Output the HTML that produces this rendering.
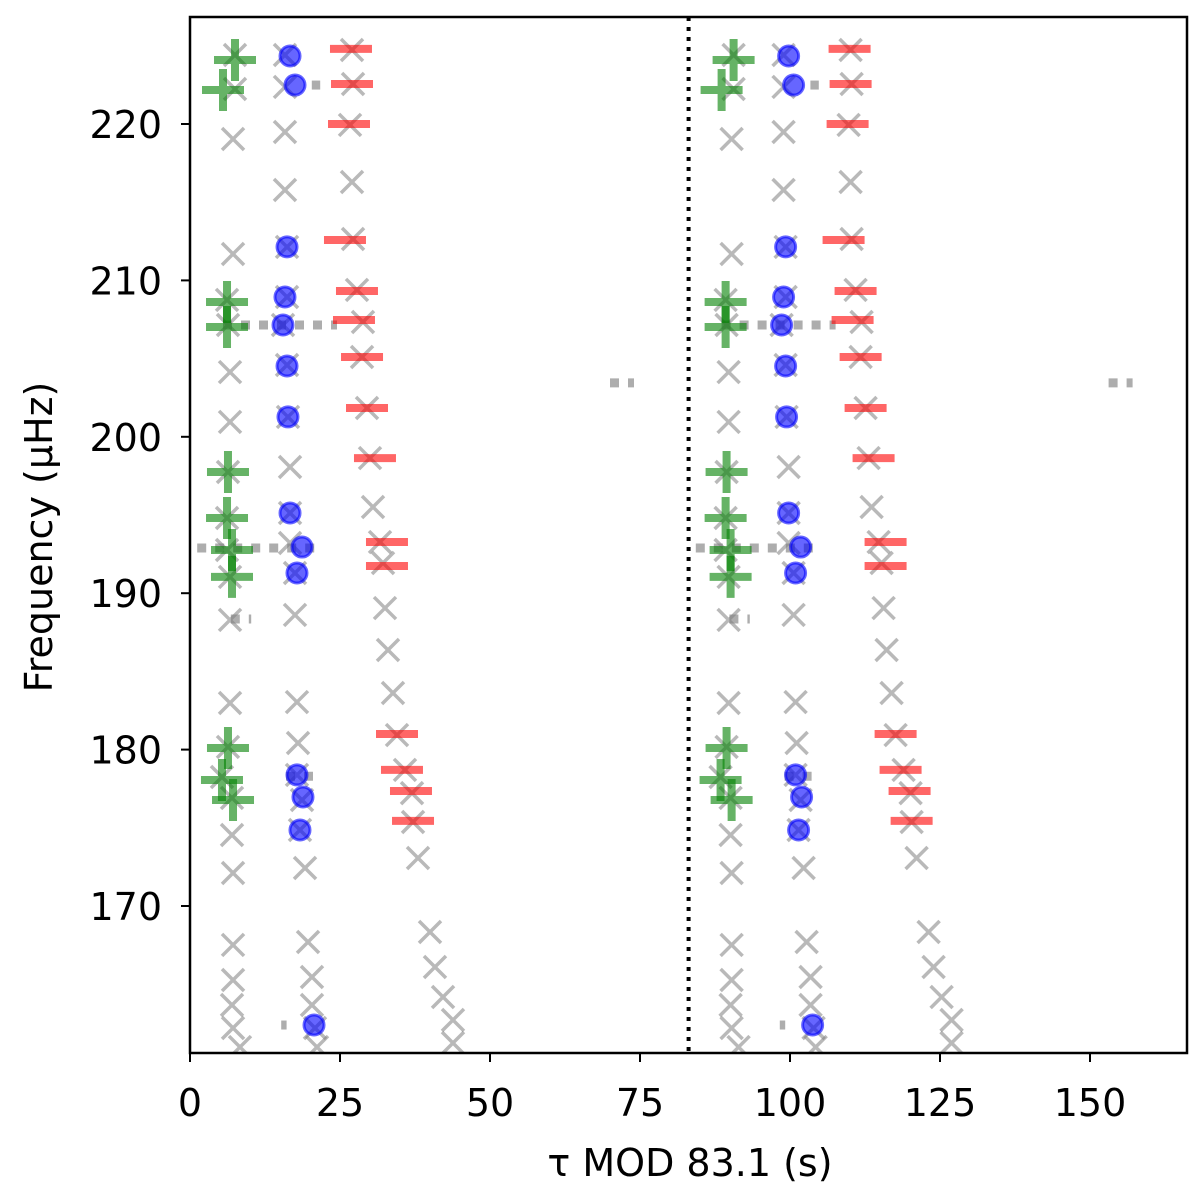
<!DOCTYPE html>
<html><head><meta charset="utf-8"><style>
html,body{margin:0;padding:0;background:#fff;}
svg text{font-family:"DejaVu Sans","Liberation Sans",sans-serif;}
</style></head><body>
<svg id="chart" width="1200" height="1198" xmlns="http://www.w3.org/2000/svg">
<defs><clipPath id="pc"><rect x="190" y="17" width="997" height="1036"/></clipPath></defs>
<g id="marks" clip-path="url(#pc)"></g>
<g id="axes"></g>
</svg>
<script>
const PERIOD = 83.1;
const xTicks = [0,25,50,75,100,125,150];
const yTicks = [170,180,190,200,210,220];
// gray x markers (model modes): [x, freq]
const grayX = [[7.5,224.41],[7.5,222.24],[7.17,219.04],[7.17,211.69],[6.17,208.75],[6.33,207.15],[6.67,204.14],[6.67,200.95],[6.33,197.75],[6.17,194.81],[6.17,192.76],[6.67,191.04],[6.67,188.29],[6.67,182.98],[6.33,180.17],[5.33,178.25],[7.0,176.91],[7.0,174.54],[7.17,172.11],[7.17,167.51],[7.17,165.27],[7.0,163.67],[7.17,162.2],[8.33,160.98],
[15.83,224.41],[15.83,222.37],[15.83,219.49],[15.83,215.78],[16.17,212.14],[16.17,208.94],[15.5,207.15],[16.17,204.59],[16.33,201.27],[16.67,198.07],[16.67,195.13],[16.67,193.21],[17.5,191.29],[17.5,188.61],[17.83,183.04],[18,180.42],[17.83,178.38],[18.67,176.78],[18.33,174.86],[19.17,172.43],[19.67,167.7],[20.33,165.46],[20.33,163.67],[20.83,162.2],[21.17,160.98],
[27,224.73],[27.17,222.56],[26.67,219.94],[27,216.29],[27.17,212.65],[27.83,209.39],[28.83,207.34],[28.67,205.1],[29.5,201.84],[30,198.64],[30.5,195.51],[31.67,193.27],[32.17,191.93],[32.5,189.05],[33,186.37],[33.83,183.62],[34.5,180.93],[35.83,178.7],[37,177.22],[37.17,175.37],[38,173.07],[40,168.34],[40.83,166.1],[42.17,164.18],[43.83,162.71],[43.83,161.24]];
const greenPlus = [[7.5,224.09],[5.5,222.17],[6.17,208.62],[6.17,207.02],[6.33,197.75],[6.17,194.81],[7.0,192.76],[7.0,191.04],[6.33,180.1],[5.33,178.06],[7.17,176.78]];
const blueDots = [[16.67,224.35],[17.5,222.49],[16.17,212.14],[15.83,208.94],[15.5,207.15],[16.17,204.53],[16.33,201.27],[16.67,195.13],[18.67,192.95],[17.83,191.29],[17.83,178.38],[18.83,176.97],[18.33,174.86],[20.67,162.39]];
const redDash = [[26.83,224.8],[27,222.56],[26.5,220.0],[25.83,212.58],[27.83,209.32],[27.33,207.47],[28.67,205.1],[29.5,201.84],[30.83,198.64],[32.83,193.27],[32.83,191.74],[34.5,181.0],[35.33,178.7],[36.83,177.35],[37.17,175.44]];
// dotted gray segments: [xStart, xEnd, freq]
const dotted = [[20.3,21.7,222.49],[5.5,24.5,207.15],[1.2,22,192.89],[6.8,10.2,188.35],[16,21.2,178.3],[15.2,16.1,162.39],[70,74,203.45]];

const X0=190, PXU=6.0, Y0=124, PYU=15.64;
const sx = v => X0 + v*PXU;
const sy = f => Y0 - (f-220)*PYU;
const NS='http://www.w3.org/2000/svg';
const marks=document.getElementById('marks');
const axes=document.getElementById('axes');
function mk(tag, attrs, parent){const e=document.createElementNS(NS,tag);for(const k in attrs)e.setAttribute(k,attrs[k]);parent.appendChild(e);return e;}

[0,PERIOD].forEach(off=>{
  dotted.forEach(d=>{
    const e=mk('line',{x1:sx(d[0]+off),x2:sx(d[1]+off),y1:sy(d[2]),y2:sy(d[2]),stroke:'#999','stroke-opacity':0.8,'stroke-width':9,'stroke-dasharray':'9 9','stroke-linejoin':'round'},marks);
    
    
  });
  grayX.forEach(p=>{
    const cx=sx(p[0]+off), cy=sy(p[1]), s=11;
    const e=mk('path',{d:`M${cx-s},${cy-s}L${cx+s},${cy+s}M${cx-s},${cy+s}L${cx+s},${cy-s}`,stroke:'#808080','stroke-opacity':0.55,'stroke-width':3.5,fill:'none'},marks);
    
    
  });
  greenPlus.forEach(p=>{
    const cx=sx(p[0]+off), cy=sy(p[1]), s=21;
    const e=mk('path',{d:`M${cx-s},${cy}L${cx+s},${cy}M${cx},${cy-s}L${cx},${cy+s}`,stroke:'#008000','stroke-opacity':0.6,'stroke-width':8,fill:'none'},marks);
    
    
  });
  blueDots.forEach(p=>{
    const e=mk('circle',{cx:sx(p[0]+off),cy:sy(p[1]),r:10,fill:'#0000ff','fill-opacity':0.6,stroke:'#0000ff','stroke-opacity':0.6,'stroke-width':3},marks);
    
    
  });
  redDash.forEach(p=>{
    const cx=sx(p[0]+off), cy=sy(p[1]);
    const e=mk('line',{x1:cx-21,x2:cx+21,y1:cy,y2:cy,stroke:'#ff0000','stroke-opacity':0.6,'stroke-width':8},marks);
    
    
  });
});

const vl=mk('line',{x1:sx(PERIOD),x2:sx(PERIOD),y1:17,y2:1053,stroke:'#000','stroke-width':4,'stroke-dasharray':'4 6'},axes);



const fr=mk('rect',{x:190,y:17,width:997,height:1036,fill:'none',stroke:'#000','stroke-width':2.5},axes);



xTicks.forEach(t=>{
  const x=sx(t);
  const tk=mk('line',{x1:x,x2:x,y1:1053,y2:1062,stroke:'#000','stroke-width':2},axes);
  
  
  const tx=mk('text',{x:x,y:1116,'font-size':38,'text-anchor':'middle',fill:'#000'},axes);
  tx.textContent=t;
  
  
});
yTicks.forEach(t=>{
  const y=sy(t);
  const tk=mk('line',{x1:181,x2:190,y1:y,y2:y,stroke:'#000','stroke-width':2},axes);
  
  
  const tx=mk('text',{x:162,y:y+14,'font-size':38,'text-anchor':'end',fill:'#000'},axes);
  tx.textContent=t;
  
  
});
const xt=mk('text',{x:690,y:1176,'font-size':38,'text-anchor':'middle',fill:'#000'},axes);
xt.textContent='τ MOD 83.1 (s)';


const yt=mk('text',{x:0,y:0,'font-size':38,'text-anchor':'middle',fill:'#000',transform:'translate(52,537) rotate(-90)'},axes);
yt.textContent='Frequency (μHz)';


</script>
</body></html>
